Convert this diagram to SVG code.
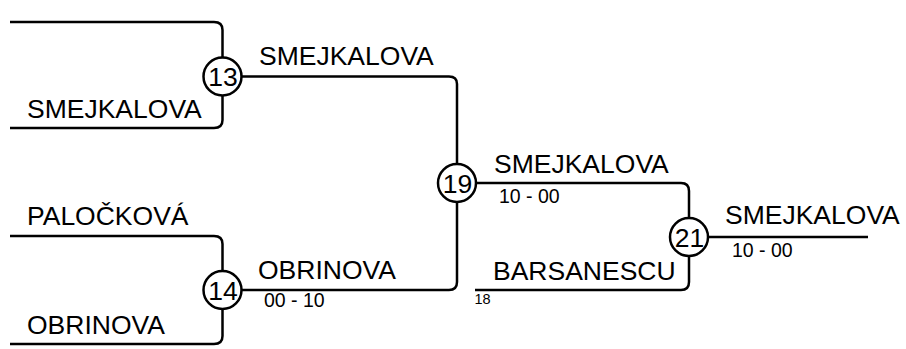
<svg xmlns="http://www.w3.org/2000/svg" width="906" height="349" viewBox="0 0 906 349">
<style>
.ln{fill:none;stroke:#000;stroke-width:2.5}
.nd circle{fill:#fff;stroke:#000;stroke-width:2.5}
text{font-family:"Liberation Sans",Arial,Helvetica,sans-serif;fill:#000}
.num{font-size:26.5px;text-anchor:middle}
.name{font-size:26.5px}
.score{font-size:19.5px}
.seed{font-size:14.5px}
</style>
<rect width="906" height="349" fill="#fff"/>
<g id="connectors">
<path class="ln" d="M10,22 H214 Q222.5,22 222.5,30 V57"/>
<path class="ln" d="M222.5,96 V120 Q222.5,128 214,128 H10"/>
<path class="ln" d="M10,236 H214 Q222.5,236 222.5,244 V271"/>
<path class="ln" d="M222.5,309 V336 Q222.5,344 214,344 H10"/>
<path class="ln" d="M242,76.5 H449 Q457,76.5 457,84 V164"/>
<path class="ln" d="M242,290 H449 Q457,290 457,282 V202"/>
<path class="ln" d="M476,183 H681 Q689,183 689,191 V218"/>
<path class="ln" d="M475,290 H681 Q689,290 689,282 V256"/>
<path class="ln" d="M708,237 H868"/>
</g>
<g id="labels">
<text class="name" x="27" y="118">SMEJKALOVA</text>
<text class="name" x="27" y="225">PALOČKOVÁ</text>
<text class="name" x="27" y="334">OBRINOVA</text>
<text class="name" x="259" y="65">SMEJKALOVA</text>
<text class="name" x="258" y="279">OBRINOVA</text>
<text class="score" x="264" y="307">00 - 10</text>
<text class="name" x="494" y="173">SMEJKALOVA</text>
<text class="score" x="499" y="203">10 - 00</text>
<text class="name" x="493" y="280">BARSANESCU</text>
<text class="seed" x="474.5" y="304">18</text>
<text class="name" x="725" y="224">SMEJKALOVA</text>
<text class="score" x="732" y="257">10 - 00</text>
</g>
<g id="node13" class="nd"><circle cx="222.5" cy="76.5" r="19"/><text class="num" x="223" y="86">13</text></g>
<g id="node14" class="nd"><circle cx="222.5" cy="290" r="19"/><text class="num" x="223" y="299.5">14</text></g>
<g id="node19" class="nd"><circle cx="457" cy="183" r="19"/><text class="num" x="457.5" y="192.5">19</text></g>
<g id="node21" class="nd"><circle cx="689" cy="237" r="19"/><text class="num" x="689.5" y="246.5">21</text></g>
</svg>
